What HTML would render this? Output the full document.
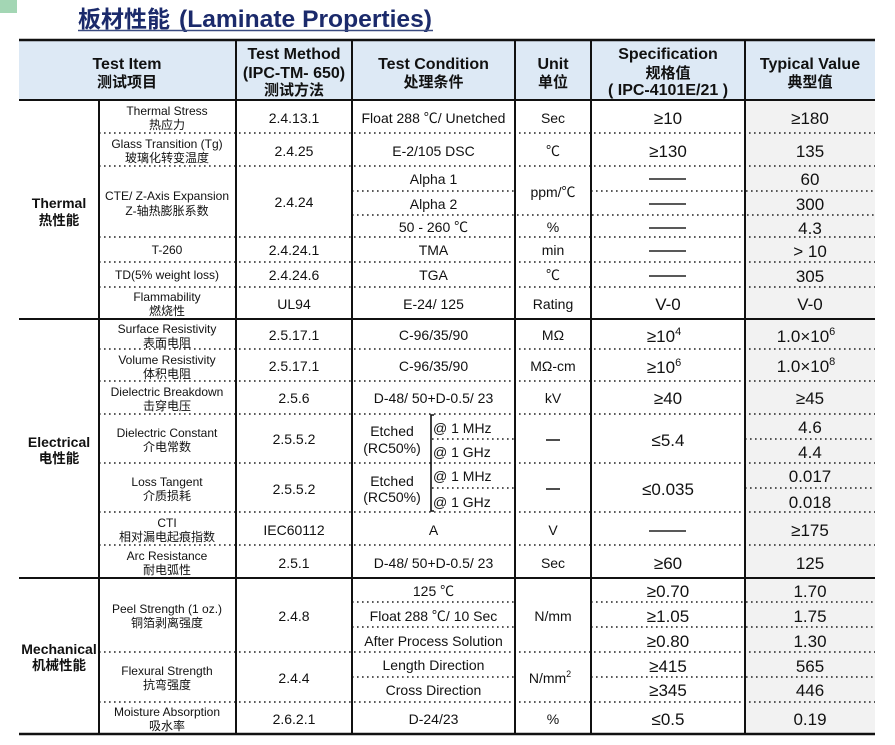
<!DOCTYPE html>
<html>
<head>
<meta charset="utf-8">
<style>
html,body{margin:0;padding:0;background:#fff;}
svg{display:block;}
text{font-family:"Liberation Sans","Noto Sans CJK SC",sans-serif;fill:#111;}
.it{font-size:12px;text-anchor:middle;}
.m{font-size:14px;text-anchor:middle;}
.ms{font-size:14px;text-anchor:start;}
.v{font-size:17px;text-anchor:middle;}
.h{font-size:16px;font-weight:bold;text-anchor:middle;}
.hc{font-size:15px;font-weight:bold;text-anchor:middle;}
.c{font-size:14px;font-weight:bold;text-anchor:middle;}
.cc{font-size:13.5px;font-weight:bold;text-anchor:middle;}
.d{stroke:#222;stroke-width:1.6;stroke-dasharray:1.6 3.4;fill:none;}
.s{stroke:#111;stroke-width:2;fill:none;}
.ds{stroke:#222;stroke-width:1.6;}
</style>
</head>
<body>
<svg width="895" height="745" viewBox="0 0 895 745" xmlns="http://www.w3.org/2000/svg">
<!-- green square -->
<rect x="0" y="0" width="17" height="13" fill="#a3d6b4"/>
<!-- title -->
<text x="78" y="27" style="font-size:23px;font-weight:bold;fill:#1b2a6b;">板材性能</text>
<text x="179" y="27" textLength="253" lengthAdjust="spacingAndGlyphs" style="font-size:24.5px;font-weight:bold;fill:#1b2a6b;">(Laminate Properties)</text>
<line x1="78" y1="30.5" x2="433" y2="30.5" stroke="#3a4a80" stroke-width="1.5"/>

<!-- backgrounds -->
<rect x="19" y="40" width="856" height="60" fill="#dde9f5"/>
<rect x="745" y="100" width="130" height="634" fill="#f2f2f2"/>

<!-- dotted lines full width (from x=99) -->
<g class="d">
<line x1="99" y1="133" x2="875" y2="133"/>
<line x1="99" y1="166" x2="875" y2="166"/>
<line x1="99" y1="237" x2="875" y2="237"/>
<line x1="99" y1="262" x2="875" y2="262"/>
<line x1="99" y1="287" x2="875" y2="287"/>
<line x1="99" y1="349" x2="875" y2="349"/>
<line x1="99" y1="381" x2="875" y2="381"/>
<line x1="99" y1="414" x2="875" y2="414"/>
<line x1="99" y1="463" x2="875" y2="463"/>
<line x1="99" y1="512" x2="875" y2="512"/>
<line x1="99" y1="545" x2="875" y2="545"/>
<line x1="99" y1="652" x2="875" y2="652"/>
<line x1="99" y1="702" x2="875" y2="702"/>
<!-- partial -->
<line x1="352" y1="191" x2="515" y2="191"/>
<line x1="591" y1="191" x2="875" y2="191"/>
<line x1="352" y1="215" x2="875" y2="215"/>
<line x1="432" y1="439" x2="515" y2="439"/>
<line x1="745" y1="439" x2="875" y2="439"/>
<line x1="432" y1="488" x2="515" y2="488"/>
<line x1="745" y1="488" x2="875" y2="488"/>
<line x1="352" y1="602" x2="515" y2="602"/>
<line x1="591" y1="602" x2="875" y2="602"/>
<line x1="352" y1="627" x2="515" y2="627"/>
<line x1="591" y1="627" x2="875" y2="627"/>
<line x1="352" y1="677" x2="515" y2="677"/>
<line x1="591" y1="677" x2="875" y2="677"/>
</g>

<!-- solid lines -->
<g class="s">
<line x1="19" y1="40" x2="875" y2="40" stroke-width="2.5"/>
<line x1="19" y1="100" x2="875" y2="100"/>
<line x1="19" y1="319" x2="875" y2="319"/>
<line x1="19" y1="578" x2="875" y2="578"/>
<line x1="19" y1="734" x2="875" y2="734" stroke-width="2.5"/>
<line x1="99" y1="100" x2="99" y2="734"/>
<line x1="236" y1="40" x2="236" y2="734"/>
<line x1="352" y1="40" x2="352" y2="734"/>
<line x1="515" y1="40" x2="515" y2="734"/>
<line x1="591" y1="40" x2="591" y2="734"/>
<line x1="745" y1="40" x2="745" y2="734"/>
<path d="M434 415 H431 V511 H434" stroke-width="1.6"/>
</g>

<!-- header -->
<text class="h" x="127" y="69">Test Item</text>
<text class="hc" x="127" y="87">测试项目</text>
<text class="h" x="294" y="59">Test Method</text>
<text class="h" x="294" y="78">(IPC-TM- 650)</text>
<text class="hc" x="294" y="95">测试方法</text>
<text class="h" x="433.5" y="69">Test Condition</text>
<text class="hc" x="433.5" y="87">处理条件</text>
<text class="h" x="553" y="69">Unit</text>
<text class="hc" x="553" y="87">单位</text>
<text class="h" x="668" y="59">Specification</text>
<text class="hc" x="668" y="78">规格值</text>
<text class="h" x="668" y="95">( IPC-4101E/21 )</text>
<text class="h" x="810" y="69">Typical Value</text>
<text class="hc" x="810" y="87">典型值</text>

<!-- categories -->
<text class="c" x="59" y="208">Thermal</text>
<text class="cc" x="59" y="225">热性能</text>
<text class="c" x="59" y="447">Electrical</text>
<text class="cc" x="59" y="463">电性能</text>
<text class="c" x="59" y="654">Mechanical</text>
<text class="cc" x="59" y="670">机械性能</text>

<!-- items -->
<text class="it" x="167" y="115">Thermal Stress</text>
<text class="it" x="167" y="129">热应力</text>
<text class="it" x="167" y="148">Glass Transition (Tg)</text>
<text class="it" x="167" y="162">玻璃化转变温度</text>
<text class="it" x="167" y="200">CTE/ Z-Axis Expansion</text>
<text class="it" x="167" y="215">Z-轴热膨胀系数</text>
<text class="it" x="167" y="254">T-260</text>
<text class="it" x="167" y="279">TD(5% weight loss)</text>
<text class="it" x="167" y="301">Flammability</text>
<text class="it" x="167" y="315">燃烧性</text>
<text class="it" x="167" y="333">Surface Resistivity</text>
<text class="it" x="167" y="347">表面电阻</text>
<text class="it" x="167" y="364">Volume Resistivity</text>
<text class="it" x="167" y="378">体积电阻</text>
<text class="it" x="167" y="396">Dielectric Breakdown</text>
<text class="it" x="167" y="410">击穿电压</text>
<text class="it" x="167" y="437">Dielectric Constant</text>
<text class="it" x="167" y="451">介电常数</text>
<text class="it" x="167" y="486">Loss Tangent</text>
<text class="it" x="167" y="500">介质损耗</text>
<text class="it" x="167" y="527">CTI</text>
<text class="it" x="167" y="541">相对漏电起痕指数</text>
<text class="it" x="167" y="560">Arc Resistance</text>
<text class="it" x="167" y="574">耐电弧性</text>
<text class="it" x="167" y="613">Peel Strength (1 oz.)</text>
<text class="it" x="167" y="627">铜箔剥离强度</text>
<text class="it" x="167" y="675">Flexural Strength</text>
<text class="it" x="167" y="689">抗弯强度</text>
<text class="it" x="167" y="716">Moisture Absorption</text>
<text class="it" x="167" y="730">吸水率</text>

<!-- methods -->
<text class="m" x="294" y="123">2.4.13.1</text>
<text class="m" x="294" y="156">2.4.25</text>
<text class="m" x="294" y="207">2.4.24</text>
<text class="m" x="294" y="255">2.4.24.1</text>
<text class="m" x="294" y="280">2.4.24.6</text>
<text class="m" x="294" y="309">UL94</text>
<text class="m" x="294" y="340">2.5.17.1</text>
<text class="m" x="294" y="371">2.5.17.1</text>
<text class="m" x="294" y="403">2.5.6</text>
<text class="m" x="294" y="444">2.5.5.2</text>
<text class="m" x="294" y="494">2.5.5.2</text>
<text class="m" x="294" y="535">IEC60112</text>
<text class="m" x="294" y="568">2.5.1</text>
<text class="m" x="294" y="621">2.4.8</text>
<text class="m" x="294" y="683">2.4.4</text>
<text class="m" x="294" y="724">2.6.2.1</text>

<!-- conditions -->
<text class="m" x="433.5" y="123">Float 288 ℃/ Unetched</text>
<text class="m" x="433.5" y="156">E-2/105  DSC</text>
<text class="m" x="433.5" y="184">Alpha 1</text>
<text class="m" x="433.5" y="209">Alpha 2</text>
<text class="m" x="433.5" y="232">50 - 260 ℃</text>
<text class="m" x="433.5" y="255">TMA</text>
<text class="m" x="433.5" y="280">TGA</text>
<text class="m" x="433.5" y="309">E-24/ 125</text>
<text class="m" x="433.5" y="340">C-96/35/90</text>
<text class="m" x="433.5" y="371">C-96/35/90</text>
<text class="m" x="433.5" y="403">D-48/ 50+D-0.5/ 23</text>
<text class="m" x="392" y="436">Etched</text>
<text class="m" x="392" y="453">(RC50%)</text>
<text class="ms" x="433" y="433">@ 1 MHz</text>
<text class="ms" x="433" y="457">@ 1 GHz</text>
<text class="m" x="392" y="486">Etched</text>
<text class="m" x="392" y="502">(RC50%)</text>
<text class="ms" x="433" y="481">@ 1 MHz</text>
<text class="ms" x="433" y="507">@ 1 GHz</text>
<text class="m" x="433.5" y="535">A</text>
<text class="m" x="433.5" y="568">D-48/ 50+D-0.5/ 23</text>
<text class="m" x="433.5" y="596">125 ℃</text>
<text class="m" x="433.5" y="621">Float 288 ℃/ 10 Sec</text>
<text class="m" x="433.5" y="646">After Process Solution</text>
<text class="m" x="433.5" y="670">Length Direction</text>
<text class="m" x="433.5" y="695">Cross Direction</text>
<text class="m" x="433.5" y="724">D-24/23</text>

<!-- units -->
<text class="m" x="553" y="123">Sec</text>
<text class="m" x="553" y="156">℃</text>
<text class="m" x="553" y="197">ppm/℃</text>
<text class="m" x="553" y="232">%</text>
<text class="m" x="553" y="255">min</text>
<text class="m" x="553" y="280">℃</text>
<text class="m" x="553" y="309">Rating</text>
<text class="m" x="553" y="340">MΩ</text>
<text class="m" x="553" y="371">MΩ-cm</text>
<text class="m" x="553" y="403">kV</text>
<line class="ds" x1="546" y1="440" x2="560" y2="440"/>
<line class="ds" x1="546" y1="489" x2="560" y2="489"/>
<text class="m" x="553" y="535">V</text>
<text class="m" x="553" y="568">Sec</text>
<text class="m" x="553" y="621">N/mm</text>
<text class="m" x="550" y="683">N/mm<tspan font-size="9" dy="-6">2</tspan></text>
<text class="m" x="553" y="724">%</text>

<!-- spec -->
<text class="v" x="668" y="124">≥10</text>
<text class="v" x="668" y="157">≥130</text>
<g class="ds">
<line x1="649" y1="179" x2="686" y2="179"/>
<line x1="649" y1="204" x2="686" y2="204"/>
<line x1="649" y1="228" x2="686" y2="228"/>
<line x1="649" y1="251" x2="686" y2="251"/>
<line x1="649" y1="276" x2="686" y2="276"/>
<line x1="649" y1="531" x2="686" y2="531"/>
</g>
<text class="v" x="668" y="310">V-0</text>
<text class="v" x="664" y="342">≥10<tspan font-size="11" dy="-7">4</tspan></text>
<text class="v" x="664" y="373">≥10<tspan font-size="11" dy="-7">6</tspan></text>
<text class="v" x="668" y="404">≥40</text>
<text class="v" x="668" y="446">≤5.4</text>
<text class="v" x="668" y="495">≤0.035</text>
<text class="v" x="668" y="569">≥60</text>
<text class="v" x="668" y="597">≥0.70</text>
<text class="v" x="668" y="622">≥1.05</text>
<text class="v" x="668" y="647">≥0.80</text>
<text class="v" x="668" y="672">≥415</text>
<text class="v" x="668" y="696">≥345</text>
<text class="v" x="668" y="725">≤0.5</text>

<!-- typical -->
<text class="v" x="810" y="124">≥180</text>
<text class="v" x="810" y="157">135</text>
<text class="v" x="810" y="185">60</text>
<text class="v" x="810" y="210">300</text>
<text class="v" x="810" y="234">4.3</text>
<text class="v" x="810" y="257">&gt; 10</text>
<text class="v" x="810" y="282">305</text>
<text class="v" x="810" y="310">V-0</text>
<text class="v" x="806" y="342">1.0×10<tspan font-size="11" dy="-7">6</tspan></text>
<text class="v" x="806" y="372">1.0×10<tspan font-size="11" dy="-7">8</tspan></text>
<text class="v" x="810" y="404">≥45</text>
<text class="v" x="810" y="433">4.6</text>
<text class="v" x="810" y="458">4.4</text>
<text class="v" x="810" y="482">0.017</text>
<text class="v" x="810" y="508">0.018</text>
<text class="v" x="810" y="536">≥175</text>
<text class="v" x="810" y="569">125</text>
<text class="v" x="810" y="597">1.70</text>
<text class="v" x="810" y="622">1.75</text>
<text class="v" x="810" y="647">1.30</text>
<text class="v" x="810" y="672">565</text>
<text class="v" x="810" y="696">446</text>
<text class="v" x="810" y="725">0.19</text>
</svg>
</body>
</html>
